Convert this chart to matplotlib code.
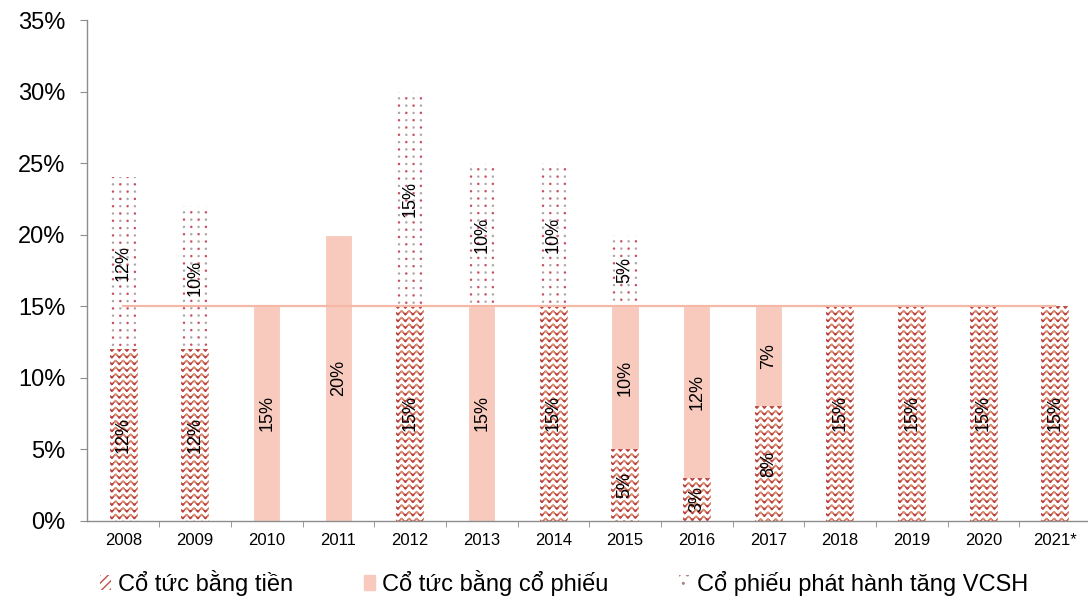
import numpy as np
import matplotlib
matplotlib.use('Agg')
import matplotlib.pyplot as plt
from matplotlib.patches import Patch

plt.rcParams['font.family'] = ['Liberation Sans', 'DejaVu Sans']

years = ['2008', '2009', '2010', '2011', '2012', '2013', '2014',
         '2015', '2016', '2017', '2018', '2019', '2020', '2021*']
tien = [12, 12, 0, 0, 15, 0, 15, 5, 3, 8, 15, 15, 15, 15]
co_phieu = [0, 0, 15, 20, 0, 15, 0, 10, 12, 7, 0, 0, 0, 0]
phat_hanh = [12, 10, 0, 0, 15, 10, 10, 5, 0, 0, 0, 0, 0, 0]
muc_tieu = [15] * len(years)

labels = ['Cổ tức bằng tiền', 'Cổ tức bằng cổ phiếu', 'Cổ phiếu phát hành tăng VCSH']
pink = '#f8cabd'


def wave_texture(wp, hp):
    # wavy rows of red/brown strokes on white
    yy, xx = np.mgrid[0:hp, 0:wp] + 0.5
    period, spacing, amp = 7.5, 6.7, 1.5
    wave = np.sin(2 * np.pi * xx / period)
    s = yy - amp * wave
    ph = s % spacing
    d = np.minimum(ph, spacing - ph)
    a = np.clip(1.8 - d, 0, 1)
    red = np.array([180, 40, 45]) / 255.0
    tan = np.array([215, 135, 95]) / 255.0
    t = ((wave + 1) / 2)[..., None]
    col = red * t + tan * (1 - t)
    return 1 - a[..., None] * 0.9 * (1 - col)


def dot_texture(wp, hp):
    # grid of small dots, red and grey alternating
    yy, xx = np.mgrid[0:hp, 0:wp] + 0.5
    sx, sy = 7.3, 7.3
    r = np.round(yy / sy)
    c = np.round((xx - 3) / sx)
    dx = xx - 3 - c * sx
    dy = yy - r * sy
    d = np.hypot(dx, dy)
    a = np.clip(1.7 - d, 0, 1)
    pal = np.array([[190, 50, 70], [165, 150, 155]]) / 255.0
    col = pal[(r + c).astype(int) % 2]
    return 1 - a[..., None] * 0.85 * (1 - col)


fig = plt.figure(figsize=(10.88, 6.05), dpi=100)
ax = fig.add_axes([0.0804, 0.1393, 0.9223, 0.8276])
x = np.arange(len(years))
w = 0.384

ax.set_xlim(-0.5, len(years) - 0.5)
ax.set_ylim(0, 35)

b1 = ax.bar(x, tien, w, color='white', edgecolor='white', lw=0.8, zorder=2)
b2 = ax.bar(x, co_phieu, w, bottom=tien, color=pink, edgecolor='white', lw=0.8, zorder=2)
bot3 = np.add(tien, co_phieu)
b3 = ax.bar(x, phat_hanh, w, bottom=bot3, color='white', edgecolor='white', lw=0.8, zorder=2)

# fill textured segments
for bars, tex in ((b1, wave_texture), (b3, dot_texture)):
    for p in bars:
        if p.get_height() <= 0:
            continue
        x0, y0 = p.get_x(), p.get_y()
        x1, y1 = x0 + p.get_width(), y0 + p.get_height()
        (px0, py0), (px1, py1) = ax.transData.transform([(x0, y0), (x1, y1)])
        img = tex(max(int(round(px1 - px0)), 1), max(int(round(py1 - py0)), 1))
        im = ax.imshow(img, extent=(x0, x1, y0, y1), aspect='auto',
                       interpolation='nearest', zorder=2.5)
        im.set_clip_path(p)

ax.set_xlim(-0.5, len(years) - 0.5)
ax.set_ylim(0, 35)

ax.plot(x, muc_tieu, color='#f5b8a6', lw=1.6, zorder=3)

# value labels inside each segment
for vals, bots in ((tien, np.zeros(len(x))), (co_phieu, tien), (phat_hanh, bot3)):
    for xi, v, b in zip(x, vals, bots):
        if v > 0:
            ax.text(xi, b + v / 2, f'{v}%', rotation=90, ha='center', va='center',
                    fontsize=13, zorder=4)

for s in ('top', 'right'):
    ax.spines[s].set_visible(False)
for s in ('left', 'bottom'):
    ax.spines[s].set_color('#8c8c8c')
    ax.spines[s].set_linewidth(1.0)

ax.set_yticks(range(0, 36, 5))
ax.set_yticklabels([f'{t}%' for t in range(0, 36, 5)], fontsize=17)
ax.tick_params(axis='y', length=5, color='#8c8c8c', pad=11)
ax.set_xticks(x)
ax.set_xticklabels(years, fontsize=12)
ax.tick_params(axis='x', which='major', length=0, pad=9)
ax.set_xticks(np.arange(0.5, len(years) - 1, 1), minor=True)
ax.tick_params(axis='x', which='minor', length=4, color='#8c8c8c')

handles = [Patch(facecolor='white', edgecolor='#c0504d', hatch='////', lw=0),
           Patch(facecolor=pink, edgecolor=pink),
           Patch(facecolor='white', edgecolor='#b08080', hatch='..', lw=0)]
fig.legend(handles, labels, loc='center', bbox_to_anchor=(564 / 1088, 1 - 583 / 605),
           ncol=3, frameon=False, fontsize=17, handlelength=0.45, handleheight=0.6,
           handletextpad=0.3, columnspacing=3.0)

fig.savefig('out.png', dpi=100)
